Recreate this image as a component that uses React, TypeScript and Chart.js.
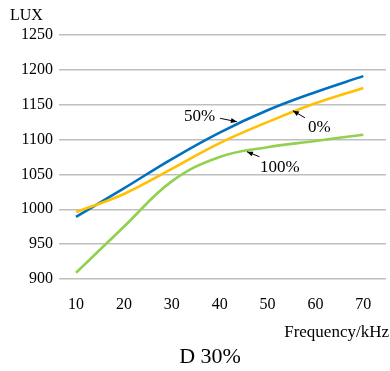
import React, { useEffect, useRef } from "react";
import { Chart, registerables } from "chart.js";

Chart.register(...registerables);

// Frequency (kHz) sampled for each dimming level
const frequencies = [10, 20, 30, 40, 50, 60, 70];
// Illuminance (lux) at each frequency
const lux50 = [989, 1030, 1072, 1110, 1142, 1168, 1191];
const lux0 = [996, 1022, 1058, 1095, 1125, 1152, 1174];
const lux100 = [909, 975, 1040, 1075, 1089, 1098, 1107];
const yTicks = [900, 950, 1000, 1050, 1100, 1150, 1200, 1250];

const SERIF = "'Liberation Serif', 'Times New Roman', serif";

type Note = { text: string; tx: number; ty: number; from: [number, number]; to: [number, number] };

// Callout labels: text anchor in pixels plus an arrow pointing at the curve (data coords)
const notes: Note[] = [
  { text: "50%", tx: 184, ty: 121, from: [40.1, 1130.5], to: [43.6, 1125.6] },
  { text: "0%", tx: 308, ty: 132, from: [57.8, 1131.3], to: [55.3, 1141.4] },
  { text: "100%", tx: 260, ty: 172, from: [48.3, 1075.4], to: [45.7, 1082.6] },
];

const overlay = {
  id: "overlay",
  afterDraw(chart: any) {
    const ctx = chart.ctx;
    const xs = chart.scales.x;
    const ys = chart.scales.y;
    ctx.save();
    ctx.fillStyle = "#000";
    ctx.strokeStyle = "#000";
    ctx.textBaseline = "alphabetic";

    ctx.font = `16px ${SERIF}`;
    ctx.textAlign = "left";
    ctx.fillText("LUX", 10, 20);

    ctx.font = `17px ${SERIF}`;
    ctx.textAlign = "right";
    ctx.fillText("Frequency/kHz", 389, 337);

    ctx.font = `22px ${SERIF}`;
    ctx.textAlign = "center";
    ctx.fillText("D 30%", 210, 363);

    ctx.font = `17px ${SERIF}`;
    ctx.textAlign = "left";
    for (const n of notes) {
      ctx.fillText(n.text, n.tx, n.ty);
      const x1 = xs.getPixelForValue(n.from[0]);
      const y1 = ys.getPixelForValue(n.from[1]);
      const x2 = xs.getPixelForValue(n.to[0]);
      const y2 = ys.getPixelForValue(n.to[1]);
      ctx.lineWidth = 1;
      ctx.beginPath();
      ctx.moveTo(x1, y1);
      ctx.lineTo(x2, y2);
      ctx.stroke();
      const a = Math.atan2(y2 - y1, x2 - x1);
      const len = 6;
      const w = 2.5;
      ctx.beginPath();
      ctx.moveTo(x2, y2);
      ctx.lineTo(x2 - len * Math.cos(a) + w * Math.sin(a), y2 - len * Math.sin(a) - w * Math.cos(a));
      ctx.lineTo(x2 - len * Math.cos(a) - w * Math.sin(a), y2 - len * Math.sin(a) + w * Math.cos(a));
      ctx.closePath();
      ctx.fill();
    }
    ctx.restore();
  },
};

function toPoints(ys: number[]) {
  return frequencies.map((f, i) => ({ x: f, y: ys[i] }));
}

export default function App() {
  const ref = useRef<HTMLCanvasElement>(null);

  useEffect(() => {
    if (!ref.current) return;
    const line = (label: string, data: number[], color: string) => ({
      label,
      data: toPoints(data),
      borderColor: color,
      backgroundColor: color,
      borderWidth: 2.6,
      pointRadius: 0,
      tension: 0.4,
      fill: false,
    });
    const chart = new Chart(ref.current, {
      type: "line",
      data: {
        datasets: [
          line("100%", lux100, "#92D050"),
          line("0%", lux0, "#FFC000"),
          line("50%", lux50, "#0070C0"),
        ],
      },
      options: {
        animation: false,
        responsive: false,
        layout: { padding: { top: 35, left: 0, right: 4, bottom: 0 } },
        plugins: { legend: { display: false }, tooltip: { enabled: false } },
        scales: {
          x: {
            type: "linear",
            min: 6.45,
            max: 74.74,
            afterBuildTicks: (s: any) => {
              s.ticks = frequencies.map((v) => ({ value: v }));
            },
            afterFit: (s: any) => {
              s.height = 92;
            },
            grid: { display: false },
            border: { display: false },
            ticks: {
              color: "#000",
              font: { family: SERIF, size: 16 },
              padding: 8,
              maxRotation: 0,
              autoSkip: false,
              callback: (v: any) => String(v),
            },
          },
          y: {
            min: 900,
            max: 1250,
            afterBuildTicks: (s: any) => {
              s.ticks = yTicks.map((v) => ({ value: v }));
            },
            afterFit: (s: any) => {
              s.width = 59;
            },
            grid: { color: "#BFBFBF", lineWidth: 1.5, drawTicks: false },
            border: { display: false },
            ticks: {
              color: "#000",
              font: { family: SERIF, size: 16 },
              padding: 6,
              callback: (v: any) => String(v),
            },
          },
        },
      },
      plugins: [overlay],
    });
    return () => chart.destroy();
  }, []);

  return (
    <div style={{ position: "fixed", left: 0, top: 0, width: 390, height: 371, background: "#fff" }}>
      <canvas ref={ref} width={390} height={371} style={{ display: "block" }} />
    </div>
  );
}
